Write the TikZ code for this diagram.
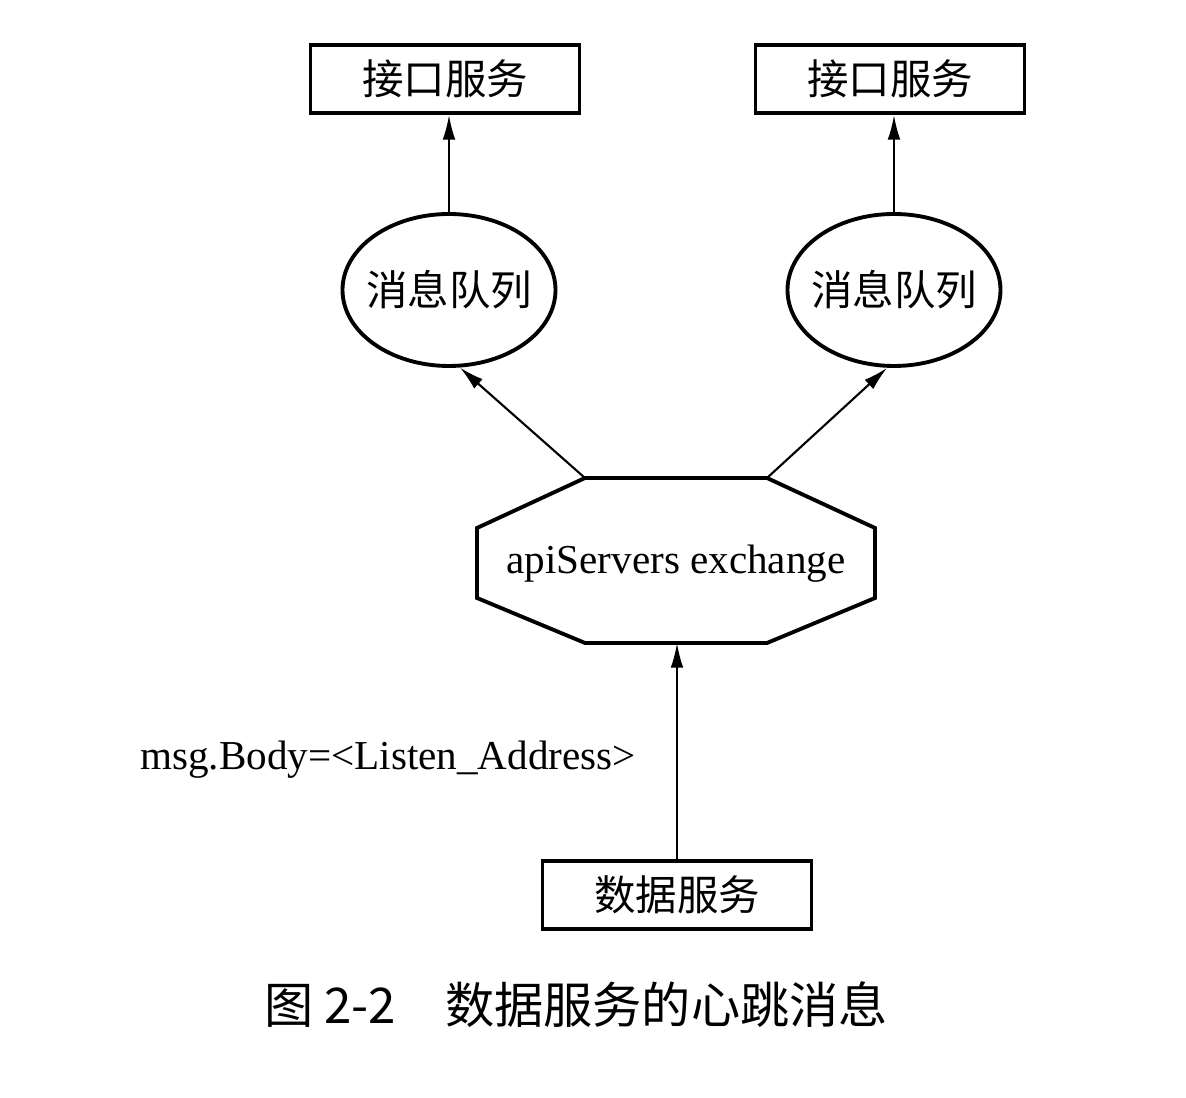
\documentclass[tikz,border=0pt]{standalone}
\usepackage{fontspec}
\setmainfont{Liberation Serif}
\newfontfamily\cjk{Noto Sans CJK SC}
\usetikzlibrary{shapes.geometric,arrows.meta}
\begin{document}
\begin{tikzpicture}[
    box/.style={draw, line width=1.1pt, minimum width=2.69cm, minimum height=0.68cm,
        inner sep=0pt, font=\cjk\fontsize{11.8}{14}\selectfont},
    queue/.style={draw, ellipse, line width=1.1pt, minimum width=2.13cm, minimum height=1.52cm,
        inner xsep=-0.12cm, inner ysep=0pt, font=\cjk\fontsize{11.8}{14}\selectfont},
    link/.style={-{Latex[length=7pt,width=3.6pt]}, line width=0.6pt}
]
\useasboundingbox (0,0) rectangle (11.86,-10.98);
% exchange
\node[font=\fontsize{11.7}{14}\selectfont] (ex) at (6.76,-5.64) {apiServers exchange};
\draw[line width=1.1pt] (5.85,-4.78) -- (7.67,-4.78) -- (8.75,-5.28) -- (8.75,-5.98)
    -- (7.67,-6.43) -- (5.85,-6.43) -- (4.77,-5.98) -- (4.77,-5.28) -- cycle;
\coordinate (exl) at (5.85,-4.78);
\coordinate (exr) at (7.67,-4.78);
\coordinate (exs) at (6.77,-6.43);
% two queues
\foreach \n/\x/\a in {l/4.45/-82, r/8.90/-95}
{
    \node[box] (api\n) at (\x,-0.79) {接口服务};
    \node[queue] (mq\n) at (\x+0.04,-2.90) {消息队列};
    \draw[link] (mq\n.north) -- (mq\n.north |- api\n.south);
    \draw[link] (ex\n) -- (mq\n.\a);
}
% data service
\node[box] (data) at (6.77,-8.95) {数据服务};
\draw[link] (data) -- (exs);
\node[font=\fontsize{11.7}{14}\selectfont] (body) at (3.88,-7.60) {msg.Body=<Listen\_Address>};
\node[font=\cjk\fontsize{14}{16}\selectfont] (cap) at (5.76,-10.05) {图 2-2\quad 数据服务的心跳消息};
\end{tikzpicture}
\end{document}
